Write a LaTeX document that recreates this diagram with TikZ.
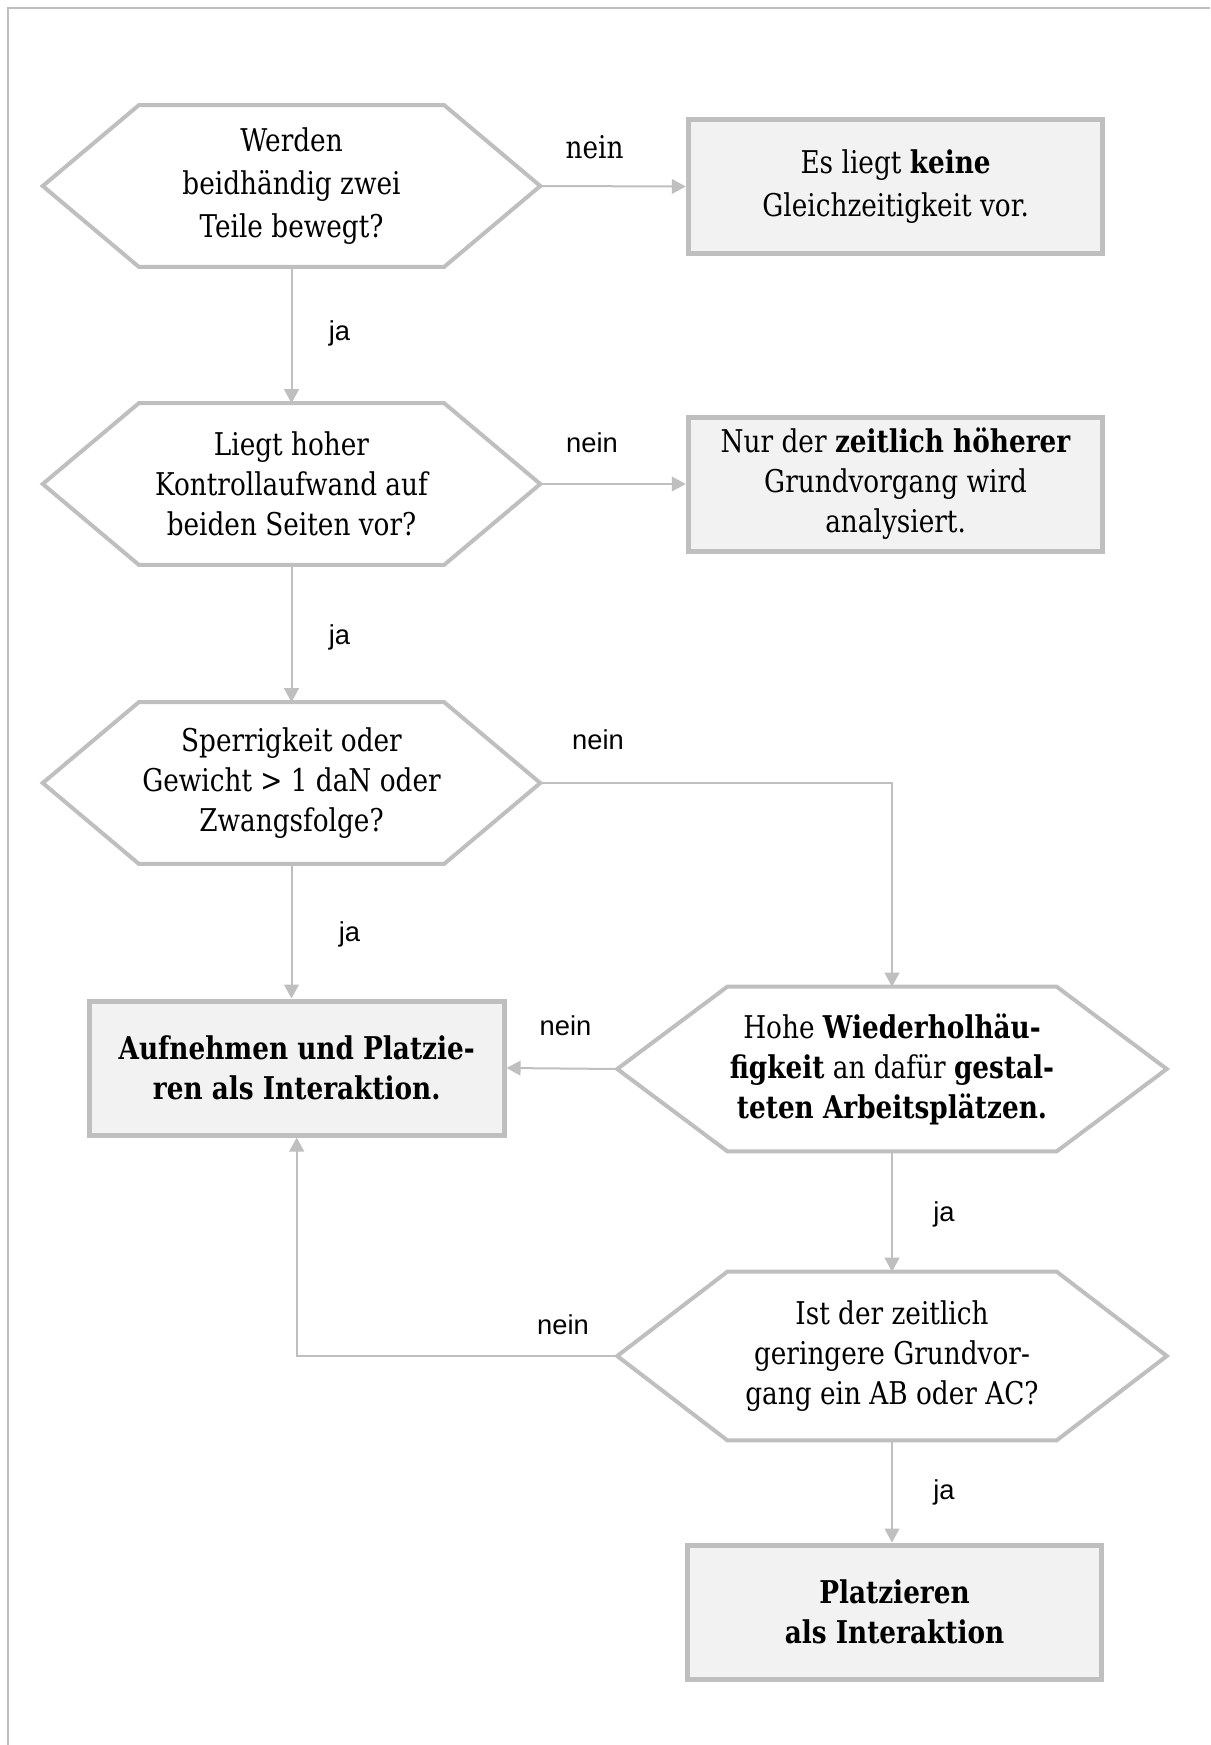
\documentclass[tikz,border=0pt]{standalone}
\usepackage{fontspec}
\setmainfont{DejaVu Serif}[FakeStretch=0.84]
\newfontfamily\labelsans{Liberation Sans}
\usetikzlibrary{arrows.meta,calc}
\definecolor{lineg}{HTML}{BFBFBF}
\definecolor{boxfill}{HTML}{F2F2F2}
\newcommand{\hexdraw}[2]{%
  \draw[hexline] (#1.west) -- ([xshift=#2]#1.north west) -- ([xshift=-#2]#1.north east)
    -- (#1.east) -- ([xshift=-#2]#1.south east) -- ([xshift=#2]#1.south west) -- cycle;}
\begin{document}
\begin{tikzpicture}[x=0.75pt,y=-0.75pt,
  hexnode/.style={inner sep=0pt, align=center, font=\fontsize{23.5}{30}\selectfont},
  hexsmall/.style={hexnode, minimum width=372.75pt, minimum height=120.75pt},
  hexwide/.style={hexnode, minimum width=411.75pt, minimum height=123pt},
  boxnode/.style={draw=lineg, line width=3.75pt, fill=boxfill, inner sep=0pt, align=center,
    minimum width=311pt, minimum height=100.5pt, font=\fontsize{23.5}{30}\selectfont},
  conn/.style={draw=lineg, line width=1.5pt, -{Triangle[length=10.5pt,width=11pt]}},
  hexline/.style={draw=lineg, line width=3pt, line join=miter},
  lbl/.style={font=\labelsans\fontsize{20.5}{24}\selectfont, inner sep=0pt},
  lblserif/.style={font=\fontsize{23.5}{26}\selectfont, inner sep=0pt},
]
\useasboundingbox (0,0) rectangle (1210,1745);
\draw[lineg, line width=1.5pt] (8,1745) -- (8,8) -- (1210,8);

% decision nodes
\node[hexsmall, font=\fontsize{23.5}{32.5}\selectfont] (h1) at (291.5,186) {Werden\\beidhändig zwei\\Teile bewegt?};
\node[hexsmall] (h2) at (291.5,484) {Liegt hoher\\Kontrollaufwand auf\\beiden Seiten vor?};
\node[hexsmall] (h3) at (291.5,783) {Sperrigkeit oder\\Gewicht > 1 daN oder\\Zwangsfolge?};
\node[hexwide] (h4) at (892,1069) {Hohe \textbf{Wiederholhäu-}\\\textbf{figkeit} an dafür \textbf{gestal-}\\\textbf{teten Arbeitsplätzen.}};
\node[hexwide, minimum height=126pt] (h5) at (892,1356) {Ist der zeitlich\\geringere Grundvor-\\gang ein AB oder AC?};

\hexdraw{h1}{72pt}
\hexdraw{h2}{72pt}
\hexdraw{h3}{72pt}
\hexdraw{h4}{82.5pt}
\hexdraw{h5}{82.5pt}

% result boxes
\node[boxnode, font=\fontsize{23.5}{32.5}\selectfont] (b1) at (895.6,186.5) {Es liegt \textbf{keine}\\Gleichzeitigkeit vor.};
\node[boxnode] (b2) at (895.6,484) {\raisebox{0pt}[\height][0pt]{}Nur der \textbf{zeitlich höherer}\\Grundvorgang wird\\analysiert.\vphantom{\rule{0pt}{0pt}}};
\node[boxnode] (b3) at (296.7,1068) {\textbf{Aufnehmen und Platzie-}\\\textbf{ren als Interaktion.}};
\node[boxnode] (b4) at (894.5,1612) {\textbf{Platzieren}\\\textbf{als Interaktion}};

% connectors
\draw[conn] (h1.east) -- (b1.west);
\draw[conn] (h1.south) -- (h2.north);
\draw[conn] (h2.east) -- (b2.west);
\draw[conn] (h2.south) -- (h3.north);
\draw[conn] (h3.east) -| (h4.north);
\draw[conn] (h3.south) -- (h3.south |- b3.north);
\draw[conn] (h4.west) -- (b3.east);
\draw[conn] (h4.south) -- (h5.north);
\draw[conn] (h5.west) -| (b3.south);
\draw[conn] (h5.south) -- (h5.south |- b4.north);

% labels
\node[lblserif] (n1) at (594.5,147) {nein};
\node[lbl] (j1) at (339.5,333) {ja};
\node[lbl] (n2) at (592,443) {nein};
\node[lbl] (j2) at (339.5,637) {ja};
\node[lbl] (n3) at (598,740) {nein};
\node[lbl] (j3) at (349.5,934) {ja};
\node[lbl] (n4) at (565.5,1026) {nein};
\node[lbl] (j4) at (944,1214.5) {ja};
\node[lbl] (n5) at (563,1325) {nein};
\node[lbl] (j5) at (944,1492) {ja};
\end{tikzpicture}
\end{document}
